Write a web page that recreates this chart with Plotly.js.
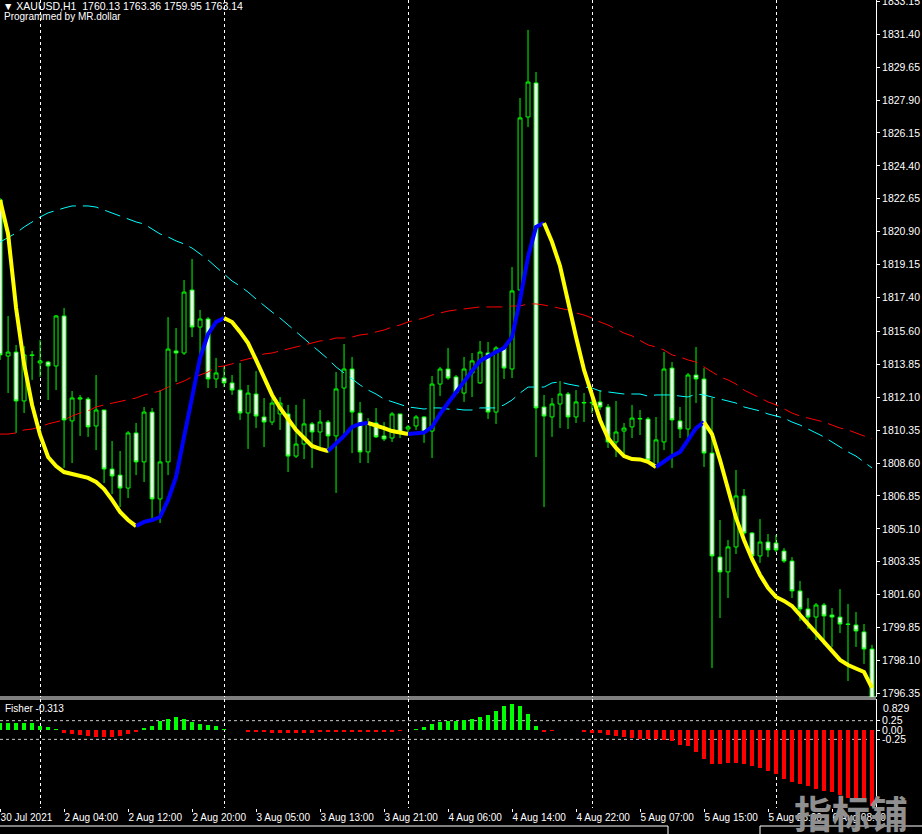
<!DOCTYPE html>
<html>
<head>
<meta charset="utf-8">
<script src="https://cdn.plot.ly/plotly-3.0.1.min.js"></script>
<style>
html,body{margin:0;padding:0;background:#000;}
#chart{width:922px;height:834px;}
</style>
</head>
<body>
<div id="chart"></div>
<script>
// ---- data (H1 bars, XAUUSD) ----
const open = [1822.59,1814.29,1814.50,1811.90,1814.35,1813.92,1813.97,1813.76,1816.42,1810.84,
1812.00,1812.00,1810.57,1811.42,1808.28,1807.96,1807.27,1810.20,1808.66,1811.31,
1806.69,1808.66,1814.56,1814.45,1817.80,1815.83,1816.26,1813.07,1813.12,1812.86,
1812.48,1811.26,1812.27,1811.05,1810.78,1811.21,1811.21,1808.97,1809.61,1810.68,
1810.25,1810.78,1810.04,1812.59,1813.60,1811.26,1809.19,1810.73,1810.04,1809.93,
1811.21,1810.41,1810.57,1811.05,1810.30,1812.80,1813.60,1813.18,1812.32,1813.39,
1812.86,1814.45,1811.31,1814.72,1813.60,1817.80,1827.00,1828.81,1811.58,1811.05,
1811.74,1812.27,1811.05,1811.79,1811.79,1811.85,1811.58,1809.72,1810.30,1810.52,
1810.94,1810.94,1808.50,1809.72,1813.65,1810.84,1810.41,1813.28,1813.07,1809.13,
1803.60,1802.81,1804.14,1806.85,1804.88,1803.66,1804.40,1804.35,1803.92,1803.39,
1801.80,1800.84,1800.41,1801.05,1800.52,1800.41,1800.04,1799.99,1799.62,1798.71];
const high = [1822.69,1816.42,1814.88,1814.82,1814.56,1815.14,1814.03,1816.47,1816.84,1812.43,
1812.22,1812.11,1813.28,1811.42,1809.77,1809.24,1810.30,1810.73,1811.58,1811.53,
1812.48,1816.36,1815.78,1818.33,1819.45,1816.74,1816.36,1814.19,1813.71,1813.28,
1813.92,1812.75,1813.49,1812.06,1812.06,1812.11,1811.69,1811.69,1812.00,1810.78,
1811.42,1810.89,1813.44,1814.93,1814.24,1811.85,1810.99,1811.53,1810.78,1811.31,
1811.21,1810.62,1811.15,1811.10,1813.23,1813.71,1814.72,1813.28,1814.24,1814.45,
1815.09,1815.04,1814.82,1814.77,1819.02,1828.01,1831.63,1829.39,1812.22,1812.06,
1812.96,1812.38,1812.48,1812.32,1812.38,1812.48,1811.74,1811.90,1810.73,1811.69,
1811.42,1811.05,1811.05,1814.50,1813.97,1811.58,1813.39,1814.77,1813.65,1812.06,
1805.57,1804.51,1808.23,1807.22,1804.93,1805.62,1804.83,1804.77,1804.08,1803.60,
1802.33,1801.42,1801.16,1801.16,1800.89,1801.90,1801.11,1800.68,1800.04,1798.93];
const low = [1814.08,1812.32,1810.20,1811.26,1813.02,1813.18,1811.95,1812.48,1808.34,1808.60,
1810.04,1809.99,1809.29,1807.54,1806.95,1806.26,1806.74,1807.96,1807.59,1805.57,
1805.41,1807.96,1812.91,1814.35,1815.30,1814.24,1812.59,1812.59,1812.64,1812.22,
1810.89,1809.35,1810.46,1809.45,1810.62,1810.36,1808.12,1808.87,1808.81,1808.34,
1809.45,1809.13,1807.01,1809.93,1809.13,1808.60,1808.60,1809.93,1809.77,1809.72,
1809.93,1810.20,1810.36,1809.67,1808.87,1812.16,1813.02,1812.27,1811.85,1812.11,
1812.80,1810.94,1810.68,1813.07,1813.12,1817.80,1826.47,1808.92,1806.26,1809.99,
1810.46,1810.41,1810.73,1810.78,1811.26,1811.42,1809.40,1808.92,1808.87,1809.93,
1810.09,1808.66,1808.50,1809.29,1808.34,1809.93,1809.83,1811.79,1808.39,1797.70,
1800.36,1801.42,1803.76,1804.77,1803.60,1803.29,1803.60,1803.87,1803.29,1801.42,
1800.20,1799.78,1799.19,1798.93,1798.82,1799.56,1797.01,1798.82,1797.92,1796.05];
const close = [1814.35,1814.50,1811.90,1814.35,1814.32,1814.03,1813.76,1816.42,1810.89,1812.06,
1812.06,1810.52,1811.42,1808.28,1807.91,1807.27,1810.20,1808.66,1811.31,1806.69,
1808.66,1814.66,1814.45,1817.69,1815.83,1816.26,1813.07,1813.39,1812.86,1812.48,
1811.26,1812.32,1811.10,1810.78,1811.79,1811.79,1808.97,1809.61,1810.68,1810.25,
1810.78,1810.04,1812.54,1813.60,1811.31,1809.19,1810.73,1809.99,1809.88,1811.21,
1810.20,1810.52,1811.05,1810.25,1812.80,1813.60,1813.12,1812.32,1813.60,1814.03,
1814.50,1811.31,1814.72,1813.65,1817.75,1826.95,1828.86,1811.53,1811.10,1811.74,
1812.27,1811.05,1811.85,1811.82,1811.82,1811.58,1809.72,1810.25,1810.46,1810.99,
1810.97,1808.76,1809.83,1813.60,1810.89,1810.41,1813.28,1813.07,1809.13,1803.66,
1802.81,1804.14,1806.85,1804.88,1803.66,1804.40,1803.98,1803.98,1803.39,1801.80,
1800.84,1800.41,1801.05,1800.47,1800.41,1800.04,1800.02,1799.67,1798.71,1796.10];
// cyan dashed moving average
const maFast = [1820.35,1820.57,1820.83,1821.15,1821.42,1821.68,1821.90,1822.05,1822.16,1822.27,
1822.27,1822.27,1822.21,1822.05,1821.90,1821.74,1821.58,1821.42,1821.31,1821.04,
1820.78,1820.62,1820.41,1820.25,1820.03,1819.72,1819.40,1819.02,1818.65,1818.28,
1818.01,1817.69,1817.32,1816.95,1816.63,1816.31,1815.94,1815.57,1815.20,1814.88,
1814.50,1814.13,1813.71,1813.39,1813.07,1812.75,1812.48,1812.27,1812.00,1811.85,
1811.69,1811.58,1811.53,1811.47,1811.53,1811.53,1811.47,1811.47,1811.42,1811.42,
1811.53,1811.53,1811.53,1811.69,1811.95,1812.32,1812.64,1812.64,1812.64,1812.86,
1812.91,1812.80,1812.70,1812.64,1812.59,1812.43,1812.38,1812.32,1812.27,1812.27,
1812.27,1812.16,1812.22,1812.22,1812.22,1812.16,1812.11,1812.27,1812.22,1812.11,
1812.00,1811.90,1811.79,1811.58,1811.47,1811.37,1811.21,1811.10,1810.99,1810.78,
1810.62,1810.41,1810.20,1809.99,1809.72,1809.45,1809.19,1808.97,1808.66,1808.34];
// red dashed moving average
const maSlow = [1810.14,1810.14,1810.20,1810.36,1810.41,1810.52,1810.68,1810.78,1810.89,1811.10,
1811.26,1811.37,1811.58,1811.69,1811.79,1811.85,1811.95,1812.06,1812.22,1812.32,
1812.43,1812.64,1812.80,1812.96,1813.18,1813.28,1813.44,1813.71,1813.76,1813.87,
1814.03,1814.13,1814.24,1814.40,1814.45,1814.56,1814.66,1814.77,1814.88,1814.98,
1815.09,1815.14,1815.25,1815.25,1815.30,1815.41,1815.46,1815.57,1815.67,1815.83,
1815.94,1816.10,1816.21,1816.31,1816.47,1816.58,1816.68,1816.74,1816.79,1816.84,
1816.90,1816.90,1816.90,1816.90,1816.95,1816.95,1817.06,1817.06,1817.00,1816.90,
1816.84,1816.74,1816.58,1816.47,1816.31,1816.10,1815.94,1815.73,1815.51,1815.36,
1815.14,1814.88,1814.77,1814.61,1814.35,1814.24,1814.08,1813.97,1813.71,1813.44,
1813.18,1813.02,1812.80,1812.48,1812.27,1812.06,1811.85,1811.69,1811.47,1811.26,
1811.10,1810.99,1810.89,1810.78,1810.62,1810.46,1810.36,1810.20,1810.04,1809.88];
// thick trend line (blue while rising, yellow while falling)
const trend = [1822.59,1820.78,1816.84,1813.87,1811.69,1810.09,1808.92,1808.44,1808.12,1808.02,
1807.91,1807.81,1807.59,1807.22,1806.64,1806.00,1805.57,1805.25,1805.47,1805.57,
1805.73,1806.64,1807.86,1809.99,1812.00,1814.19,1815.46,1816.10,1816.31,1816.10,
1815.57,1814.98,1814.08,1813.18,1812.22,1811.53,1810.94,1810.36,1809.93,1809.51,
1809.35,1809.24,1809.61,1810.04,1810.52,1810.68,1810.73,1810.62,1810.46,1810.30,
1810.20,1810.14,1810.17,1810.22,1810.52,1811.21,1811.79,1812.38,1812.91,1813.49,
1814.03,1814.29,1814.50,1814.72,1815.30,1817.27,1819.56,1821.15,1821.36,1820.35,
1819.08,1817.11,1815.30,1813.55,1812.16,1810.89,1809.93,1809.40,1808.97,1808.81,
1808.79,1808.66,1808.39,1808.71,1808.97,1809.19,1809.83,1810.46,1810.78,1810.14,
1808.76,1807.17,1805.68,1804.51,1803.50,1802.65,1801.96,1801.48,1801.27,1801.00,
1800.52,1800.04,1799.56,1799.03,1798.55,1798.13,1797.86,1797.70,1797.49,1796.64];
// Fisher histogram
const fisher = [0.19,0.19,0.19,0.18,0.18,0.12,0.07,0.02,-0.07,-0.10,
-0.12,-0.15,-0.18,-0.20,-0.18,-0.16,-0.11,-0.05,0.05,0.11,
0.23,0.30,0.34,0.30,0.21,0.17,0.14,0.11,0.04,0.01,
0.01,-0.06,-0.06,-0.065,-0.07,-0.09,-0.09,-0.09,-0.09,-0.07,
-0.065,-0.06,-0.06,-0.06,-0.065,-0.065,-0.06,-0.06,-0.05,-0.04,
-0.02,0.01,0.04,0.08,0.15,0.21,0.23,0.23,0.26,0.30,
0.35,0.41,0.50,0.65,0.69,0.65,0.43,0.11,-0.04,-0.02,
0.01,0.01,0.01,-0.05,-0.07,-0.09,-0.12,-0.15,-0.18,-0.21,
-0.23,-0.24,-0.24,-0.26,-0.30,-0.39,-0.44,-0.60,-0.77,-0.91,
-0.91,-0.89,-0.89,-0.91,-0.96,-1.02,-1.09,-1.18,-1.31,-1.39,
-1.44,-1.50,-1.57,-1.62,-1.67,-1.74,-1.81,-1.85,-1.90,-2.04];
const timeLabels = ["30 Jul 2021","2 Aug 04:00","2 Aug 12:00","2 Aug 20:00","3 Aug 05:00","3 Aug 13:00",
"3 Aug 21:00","4 Aug 06:00","4 Aug 14:00","4 Aug 22:00","5 Aug 07:00","5 Aug 15:00","5 Aug 23:00","6 Aug 08:00"];
const labelEvery = 8;                    // bars between time labels
const dayStartBars = [5, 28, 51, 74, 97]; // first bar of each trading day
const priceTicks = [1833.15,1831.40,1829.65,1827.90,1826.15,1824.40,1822.65,1820.90,1819.15,1817.40,
1815.60,1813.85,1812.10,1810.35,1808.60,1806.85,1805.10,1803.35,1801.60,1799.85,1798.10,1796.35];
const fisherLevels = [0.25, 0.00, -0.25];
const fisherMax = 0.829;
const headerText = "XAUUSD,H1  1760.13 1763.36 1759.95 1763.14";
const fisherLabel = "Fisher -0.313";

// ---- build ----
const idx = close.map((_, i) => i);
const FONT = "Liberation Sans, Arial, sans-serif";
const traces = [];

traces.push({
  type: "candlestick", x: idx, open, high, low, close,
  xaxis: "x", yaxis: "y",
  increasing: {line: {color: "#00ff00", width: 1}, fillcolor: "#000000"},
  decreasing: {line: {color: "#00ff00", width: 1}, fillcolor: "#ffffff"},
  whiskerwidth: 0, hoverinfo: "skip", showlegend: false
});
traces.push({type: "scatter", mode: "lines", x: idx, y: maSlow, xaxis: "x", yaxis: "y",
  line: {color: "#ff0000", width: 1, dash: "16px,7px"}, hoverinfo: "skip", showlegend: false});
traces.push({type: "scatter", mode: "lines", x: idx, y: maFast, xaxis: "x", yaxis: "y",
  line: {color: "#00ffff", width: 1, dash: "16px,7px"}, hoverinfo: "skip", showlegend: false});

// trend line split into rising (blue) / falling (yellow) runs
let runStart = 0;
for (let s = 0; s < trend.length - 1; s++) {
  const up = trend[s + 1] > trend[s];
  const nextUp = s + 2 < trend.length ? trend[s + 2] > trend[s + 1] : null;
  if (nextUp !== up) {
    traces.push({type: "scatter", mode: "lines", x: idx.slice(runStart, s + 2), y: trend.slice(runStart, s + 2),
      xaxis: "x", yaxis: "y", line: {color: up ? "#0000ff" : "#ffff00", width: 4},
      hoverinfo: "skip", showlegend: false});
    runStart = s + 1;
  }
}

traces.push({type: "bar", x: idx, y: fisher, xaxis: "x", yaxis: "y2", width: 0.45,
  marker: {color: fisher.map(v => v >= 0 ? "#00ff00" : "#ff0000"), line: {width: 0}},
  hoverinfo: "skip", showlegend: false});

const shapes = [];
fisherLevels.filter(v => v !== 0).forEach(v => shapes.push({type: "line", xref: "paper", x0: 0, x1: 1,
  yref: "y2", y0: v, y1: v, line: {color: "#c8c8c8", width: 1, dash: "3px,3px"}, layer: "below"}));
shapes.push({type: "line", xref: "paper", x0: 0, x1: 1, yref: "y domain", y0: 0, y1: 0,
  line: {color: "#ffffff", width: 1}});
shapes.push({type: "line", xref: "paper", x0: 0, x1: 1, yref: "y2 domain", y0: 1, y1: 1,
  line: {color: "#ffffff", width: 1}});
// terminal tab bar edges
shapes.push({type: "line", xref: "paper", yref: "paper", x0: 0, x1: 668/876, y0: -18/808, y1: -18/808, line: {color: "#ffffff", width: 1}});
shapes.push({type: "line", xref: "paper", yref: "paper", x0: 668/876, x1: 668/876, y0: -18/808, y1: -30/808, line: {color: "#ffffff", width: 1}});
shapes.push({type: "line", xref: "paper", yref: "paper", x0: 760/876, x1: 922/876, y0: -18/808, y1: -18/808, line: {color: "#ffffff", width: 1}});
shapes.push({type: "line", xref: "paper", yref: "paper", x0: 760/876, x1: 760/876, y0: -18/808, y1: -30/808, line: {color: "#ffffff", width: 1}});

const tickIdx = timeLabels.map((_, k) => k * labelEvery);
const N = close.length;

const layout = {
  width: 922, height: 834,
  margin: {l: 0, r: 46, t: 0, b: 26},
  paper_bgcolor: "#000000", plot_bgcolor: "#000000",
  font: {family: FONT, size: 10, color: "#ffffff"},
  showlegend: false, dragmode: false, bargap: 0,
  xaxis: {
    anchor: "y2", range: [-0.01, N - 0.5], showgrid: false, zeroline: false,
    rangeslider: {visible: false}, tickmode: "array", tickvals: tickIdx, ticktext: timeLabels,
    ticks: "outside", ticklen: 3, tickcolor: "#ffffff", ticklabelposition: "outside right",
    ticklabeloverflow: "allow",
    tickfont: {family: FONT, size: 10, color: "#ffffff"}, showline: false,
    minor: {tickmode: "array", tickvals: dayStartBars, showgrid: true, gridcolor: "#ffffff",
      griddash: "3px,3px", gridwidth: 1, ticks: ""}
  },
  yaxis: {
    domain: [111/808, 1], anchor: "x", side: "right",
    range: [1796.16, 1833.22], showgrid: false, zeroline: false,
    tickmode: "array", tickvals: priceTicks, ticktext: priceTicks.map(v => v.toFixed(2)),
    ticks: "outside", ticklen: 3, tickcolor: "#ffffff", ticklabeloverflow: "allow",
    showline: true, linecolor: "#ffffff", linewidth: 1,
    tickfont: {family: FONT, size: 10.5, color: "#ffffff"}
  },
  yaxis2: {
    domain: [0, 109/808], anchor: "x", side: "right",
    range: [-2.085, fisherMax], showgrid: false, zeroline: false,
    tickmode: "array", tickvals: fisherLevels, ticktext: fisherLevels.map(v => v.toFixed(2)),
    ticks: "outside", ticklen: 3, tickcolor: "#ffffff", ticklabeloverflow: "allow",
    showline: true, linecolor: "#ffffff", linewidth: 1,
    tickfont: {family: FONT, size: 10.5, color: "#ffffff"}
  },
  shapes: shapes,
  annotations: [
    {xref: "paper", yref: "paper", x: 0, y: 1, xanchor: "left", yanchor: "top", xshift: 1, yshift: 2,
     text: "\u25BC " + headerText, showarrow: false, font: {family: FONT, size: 10.5, color: "#ffffff"}},
    {xref: "paper", yref: "paper", x: 0, y: 1, xanchor: "left", yanchor: "top", xshift: 2, yshift: -9,
     text: "Programmed by MR.dollar", showarrow: false, font: {family: FONT, size: 10, color: "#ffffff"}},
    {xref: "paper", yref: "y2 domain", x: 0, y: 1, xanchor: "left", yanchor: "top", xshift: 3, yshift: -2,
     text: fisherLabel, showarrow: false, font: {family: FONT, size: 10, color: "#ffffff"}},
    {xref: "paper", yref: "y2 domain", x: 1, y: 1, xanchor: "left", yanchor: "top", xshift: 5, yshift: -1,
     text: fisherMax.toFixed(3), showarrow: false, font: {family: FONT, size: 10.5, color: "#ffffff"}},
    {xref: "paper", yref: "paper", x: 1, y: 0, xanchor: "center", yanchor: "middle", xshift: -25, yshift: -3,
     text: "<b>指标铺</b>", showarrow: false,
     font: {family: "Noto Sans CJK SC, sans-serif", size: 38, color: "#8f8f8f"}}
  ]
};

Plotly.newPlot("chart", traces, layout, {staticPlot: true, displayModeBar: false});
</script>
</body>
</html>
